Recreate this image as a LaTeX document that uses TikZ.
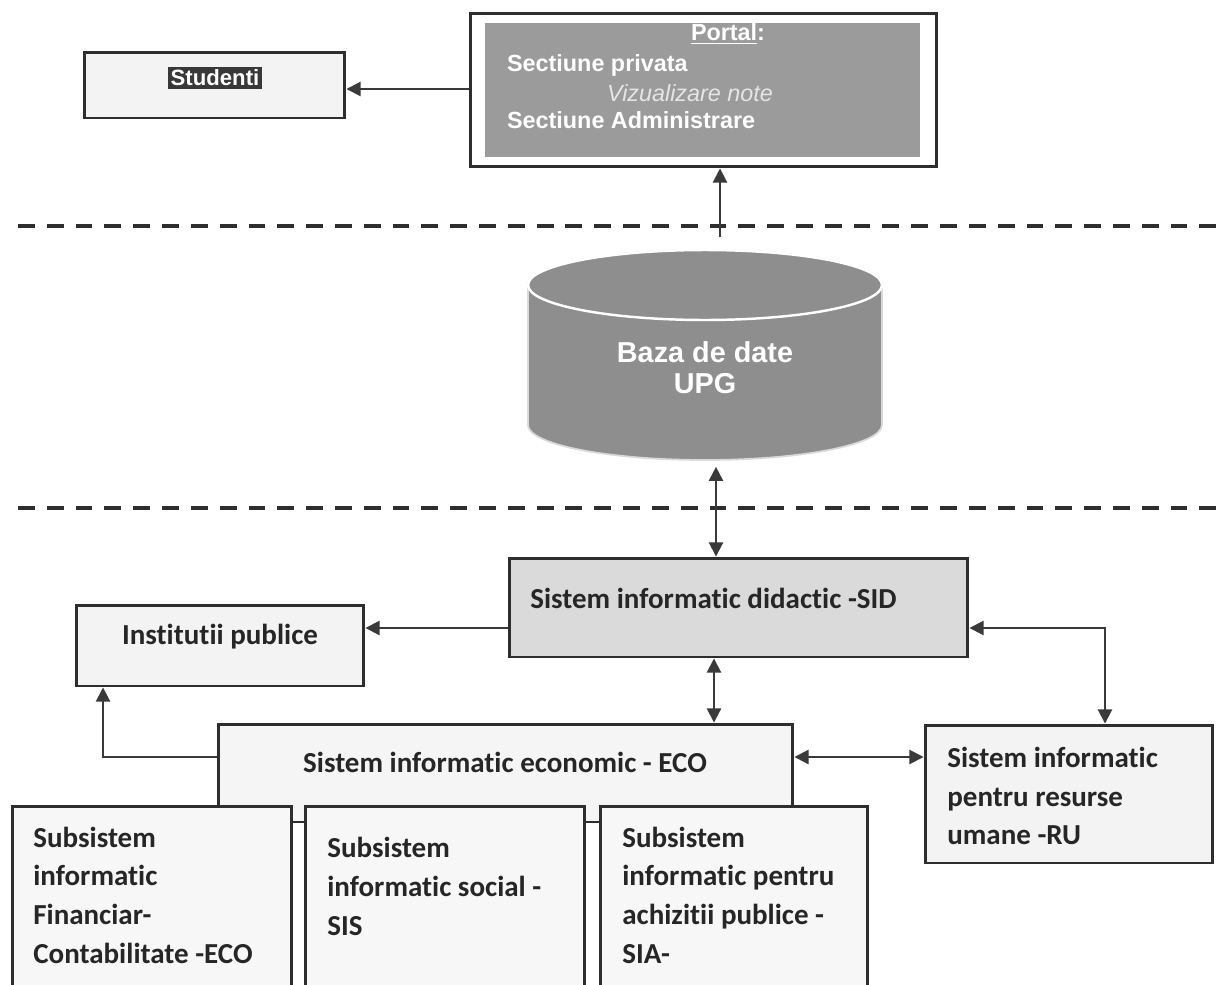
\documentclass[tikz,border=0pt]{standalone}
\usepackage{fontspec}
\setmainfont{Liberation Sans}
\newfontfamily\calibri[Ligatures=NoCommon]{Carlito}
\usetikzlibrary{positioning}
\usetikzlibrary{arrows.meta}
\definecolor{edge}{HTML}{2E2E2E}
\definecolor{linkgray}{HTML}{3A3A3A}
\definecolor{portalgray}{HTML}{9B9B9B}
\definecolor{dbgray}{HTML}{8E8E8E}
\definecolor{sidgray}{HTML}{DADADA}
\definecolor{paper}{HTML}{F3F3F3}

\begin{document}
\begin{tikzpicture}[x=0.02cm,y=-0.02cm,>={Triangle[length=8pt,width=8pt]},
	box/.style={draw=edge,line width=1.7pt,inner sep=0pt,fill=paper},
	link/.style={draw=linkgray,line width=1.1pt},
	sep/.style={draw=edge,line width=2.3pt,dash pattern=on 9.6pt off 6.8pt},
	whitetxt/.style={text=white,inner sep=1pt,font=\bfseries\fontsize{13.3}{16}\selectfont},
	systxt/.style={inner sep=0pt,align=left,text=black!85,font=\calibri\bfseries\fontsize{16.5}{22}\selectfont}]
	\useasboundingbox (0,0) rectangle (1217,984);
	\clip (0,0) rectangle (1217,984);
	\fill[white] (0,0) rectangle (1217,984);

	\node (portal) [box, fill=white, minimum width=9.34cm, minimum height=3.08cm] at (703.5,90) {};
	\node (portalin) [fill=portalgray, minimum width=8.7cm, minimum height=2.68cm, inner sep=0pt] at (702.5,90) {};
	\node (ptitle) [whitetxt] at (728,34) {\underline{Portal}:};
	\node (priv) [whitetxt, anchor=west] at (505,65) {Sectiune privata};
	\node (note) [whitetxt, font=\itshape\fontsize{13.3}{16}\selectfont, text=white!90!black] at (690,93) {Vizualizare note};
	\node (admin) [whitetxt, anchor=west] at (505,120) {Sectiune Administrare};

	\node (studenti) [box, fill=paper, minimum width=5.22cm, minimum height=1.32cm] at (214.5,85) {};
	\node (stlabel) [whitetxt, fill=black!78, inner sep=1.5pt, font=\bfseries\fontsize{12.6}{15}\selectfont] at (215,78) {Studenti};

	\draw[sep] (18,226) -- (1217,226);
	\draw[sep] (18,508) -- (1217,508);

	\fill[dbgray, draw=black!15, line width=1pt] (528,285) -- (528,425) arc[start angle=180, end angle=360, x radius=3.54cm, y radius=0.7cm] -- (882,285) arc[start angle=0, end angle=180, x radius=3.54cm, y radius=0.7cm] -- cycle;
	\draw[white, line width=1.4pt, fill=dbgray] (705,285) ellipse [x radius=3.54cm, y radius=0.7cm];
	\node (db) [minimum width=7.08cm, minimum height=3.94cm, align=center, text=white, font=\bfseries\fontsize{16.4}{17.5}\selectfont] at (705,368) {Baza de date\\UPG};
	\coordinate (dbtop) at (720,237);

	\node (sid) [box, fill=sidgray, minimum width=9.18cm, minimum height=1.98cm] at (738.5,607.5) {};
	\node (sidtxt) [systxt, anchor=west] at (530,598) {Sistem informatic didactic -SID};

	\node (inst) [box, minimum width=5.76cm, minimum height=1.62cm] at (220,645.5) {};
	\node (insttxt) [systxt] at (220,637) {Institutii publice};

	\node (eco) [box, fill=black!4, minimum width=11.5cm, minimum height=1.96cm] at (505.5,773) {};
	\node (ecotxt) [systxt] at (505,762) {Sistem informatic economic - ECO};

	\node (ru) [box, minimum width=5.76cm, minimum height=2.76cm] at (1069,794) {};
	\node (rutxt) [systxt, anchor=west] at (947,796) {Sistem informatic\\pentru resurse\\umane -RU};

	\node (sub1) [box, fill=black!3, minimum width=5.6cm, minimum height=3.88cm] at (152,903) {};
	\node (sub2) [box, fill=black!3, minimum width=5.6cm, minimum height=3.88cm] at (445,903) {};
	\node (sub3) [box, fill=black!3, minimum width=5.36cm, minimum height=3.88cm] at (734,903) {};
	\node (sub1txt) [systxt, anchor=west] at (33,895) {Subsistem\\informatic\\Financiar-\\Contabilitate -ECO};
	\node (sub2txt) [systxt, anchor=west] at (327,886.5) {Subsistem\\informatic social -\\SIS};
	\node (sub3txt) [systxt, anchor=west] at (622,895) {Subsistem\\informatic pentru\\achizitii publice -\\SIA-};

	\draw[link, ->] (portal.west |- 0,89) -- (studenti.east |- 0,89);
	\draw[link, ->] (dbtop) -- (dbtop |- portal.south);
	\draw[link, <->] ([xshift=0.22cm]db.south) -- ([xshift=0.22cm]db.south |- sid.north);
	\draw[link, ->] ([yshift=-0.41cm]sid.west) -- ([yshift=-0.41cm]sid.west -| inst.east);
	\draw[link, <->] ([xshift=-0.49cm]sid.south) -- ([xshift=-0.49cm]sid.south |- eco.north);
	\draw[link, <->] ([yshift=-0.41cm]sid.east) -| ([xshift=0.72cm]ru.north);
	\draw[link, <->] ([yshift=0.32cm]eco.east) -- ([yshift=0.32cm]eco.east -| ru.west);
	\draw[link, ->] ([yshift=0.32cm]eco.west) -| ([xshift=-2.34cm]inst.south);
\end{tikzpicture}
\end{document}
